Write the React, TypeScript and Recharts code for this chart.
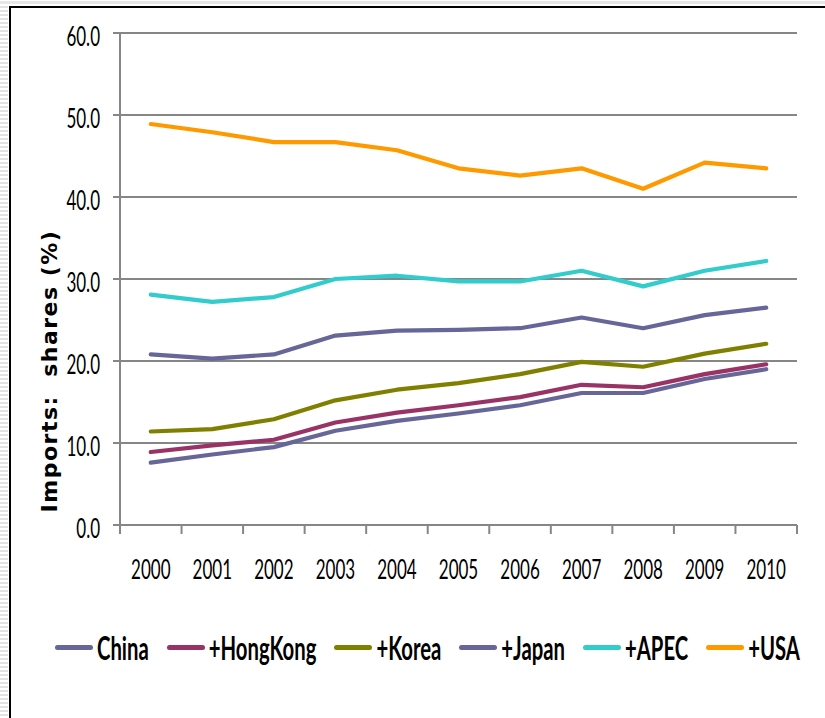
import { LineChart, Line, XAxis, YAxis, CartesianGrid, Legend } from "recharts";

const YEARS = ["2000", "2001", "2002", "2003", "2004", "2005", "2006", "2007", "2008", "2009", "2010"];
const CHINA = [7.6, 8.6, 9.5, 11.5, 12.7, 13.6, 14.6, 16.1, 16.1, 17.8, 19.0];
const HONG_KONG = [8.9, 9.7, 10.4, 12.5, 13.7, 14.6, 15.6, 17.1, 16.8, 18.4, 19.6];
const KOREA = [11.4, 11.7, 12.9, 15.2, 16.5, 17.3, 18.4, 19.9, 19.3, 20.9, 22.1];
const JAPAN = [20.8, 20.3, 20.8, 23.1, 23.7, 23.8, 24.0, 25.3, 24.0, 25.6, 26.5];
const APEC = [28.1, 27.2, 27.8, 30.0, 30.4, 29.7, 29.7, 31.0, 29.1, 31.0, 32.2];
const USA = [48.9, 47.9, 46.7, 46.7, 45.7, 43.5, 42.6, 43.5, 41.0, 44.2, 43.5];
const Y_TICKS = [0, 10, 20, 30, 40, 50, 60];

const SERIES = [
  { key: "china", name: "China", color: "#666699", values: CHINA },
  { key: "hongKong", name: "+HongKong", color: "#993366", values: HONG_KONG },
  { key: "korea", name: "+Korea", color: "#808000", values: KOREA },
  { key: "japan", name: "+Japan", color: "#666699", values: JAPAN },
  { key: "apec", name: "+APEC", color: "#33CCCC", values: APEC },
  { key: "usa", name: "+USA", color: "#FF9900", values: USA },
];

const data = YEARS.map((year, i) => {
  const row: Record<string, string | number> = { year };
  SERIES.forEach((s) => (row[s.key] = s.values[i]));
  return row;
});

const W = 825;
const H = 718;
const AXIS = "#868686";
const PLOT_W = 797 - 120;
const HALF_BAND = PLOT_W / YEARS.length / 2;
const STRETCH = 1.6;

function XTick({ x, y, payload, index }: any) {
  const last = index === YEARS.length - 1;
  return (
    <g transform={`translate(${x},${y})`}>
      <line x1={-HALF_BAND} x2={-HALF_BAND} y1={0} y2={9} stroke={AXIS} strokeWidth={2} />
      {last && <line x1={HALF_BAND} x2={HALF_BAND} y1={0} y2={9} stroke={AXIS} strokeWidth={2} />}
      <text transform={`scale(1,${STRETCH})`} x={0} y={34} textAnchor="middle" fontFamily="Lato" fontSize={17} fill="#000">
        {payload.value}
      </text>
    </g>
  );
}

function YTick({ x, y, payload }: any) {
  return (
    <g transform={`translate(${x},${y})`}>
      <text transform={`scale(1,${STRETCH})`} x={-13} y={8} textAnchor="end" fontFamily="Lato" fontSize={17} fill="#000">
        {Number(payload.value).toFixed(1)}
      </text>
    </g>
  );
}

function AxisTitle() {
  return (
    <text
      x={57}
      y={371}
      transform="rotate(-90, 57, 371)"
      textAnchor="middle"
      fontFamily="DejaVu Sans"
      fontWeight="bold"
      fontSize={22}
      letterSpacing={1.5}
      fill="#000"
      style={{ whiteSpace: "pre" }}
    >
      {"Imports:  shares (%)"}
    </text>
  );
}

// legend keeps the series order instead of the alphabetical payload order
function LegendRow() {
  return (
    <div style={{ display: "flex", alignItems: "center", height: 30, paddingLeft: 55 }}>
      {SERIES.map((s) => (
        <div key={s.key} style={{ display: "flex", alignItems: "center", marginRight: 18 }}>
          <span
            style={{
              display: "inline-block",
              width: 38,
              height: 5,
              borderRadius: 3,
              background: s.color,
              marginRight: 4,
            }}
          />
          <span
            style={{
              display: "inline-block",
              fontFamily: "Lato",
              fontWeight: 700,
              fontSize: 20.3,
              lineHeight: "20px",
              transform: "scaleY(1.64)",
              color: "#000",
              whiteSpace: "nowrap",
            }}
          >
            {s.name}
          </span>
        </div>
      ))}
    </div>
  );
}

export default function App() {
  return (
    <div style={{ position: "absolute", left: 0, top: 0, width: W, height: H, overflow: "hidden", background: "#fff" }}>
      {/* striped page edge and the frame of the chart object */}
      <div
        style={{
          position: "absolute",
          left: 0,
          top: 0,
          width: 8,
          height: H,
          background: "repeating-linear-gradient(#fff 0px, #fff 2px, #e2e2e2 2px, #e2e2e2 4px)",
        }}
      />
      <div style={{ position: "absolute", left: 0, top: 1, width: W, height: 3, background: "#e6e6e6" }} />
      <div
        style={{
          position: "absolute",
          left: 9,
          top: 6,
          width: W,
          height: H,
          borderTop: "2px solid #000",
          borderLeft: "2px solid #000",
        }}
      />
      <div style={{ position: "absolute", left: 0, top: 0 }}>
        <LineChart width={W} height={H} data={data} margin={{ top: 33, right: 28, bottom: 133, left: 0 }}>
          <CartesianGrid vertical={false} stroke={AXIS} strokeWidth={2} />
          <XAxis
            dataKey="year"
            scale="point"
            padding={{ left: HALF_BAND, right: HALF_BAND }}
            height={60}
            tickSize={0}
            tickMargin={0}
            tickLine={false}
            axisLine={{ stroke: AXIS, strokeWidth: 2 }}
            tick={<XTick />}
            interval={0}
          />
          <YAxis
            width={120}
            domain={[0, 60]}
            ticks={Y_TICKS}
            interval={0}
            tickSize={7}
            tickMargin={0}
            tickLine={{ stroke: AXIS, strokeWidth: 2 }}
            axisLine={{ stroke: AXIS, strokeWidth: 2 }}
            tick={<YTick />}
            label={AxisTitle}
          />
          {SERIES.map((s) => (
            <Line
              key={s.key}
              type="linear"
              dataKey={s.key}
              name={s.name}
              stroke={s.color}
              strokeWidth={4.2}
              strokeLinecap="round"
              strokeLinejoin="round"
              dot={false}
              activeDot={false}
              isAnimationActive={false}
            />
          ))}
          <Legend
            layout="horizontal"
            verticalAlign="middle"
            align="center"
            width={W}
            wrapperStyle={{ top: 632, left: 0, width: W, height: 30 }}
            content={<LegendRow />}
          />
        </LineChart>
      </div>
    </div>
  );
}
